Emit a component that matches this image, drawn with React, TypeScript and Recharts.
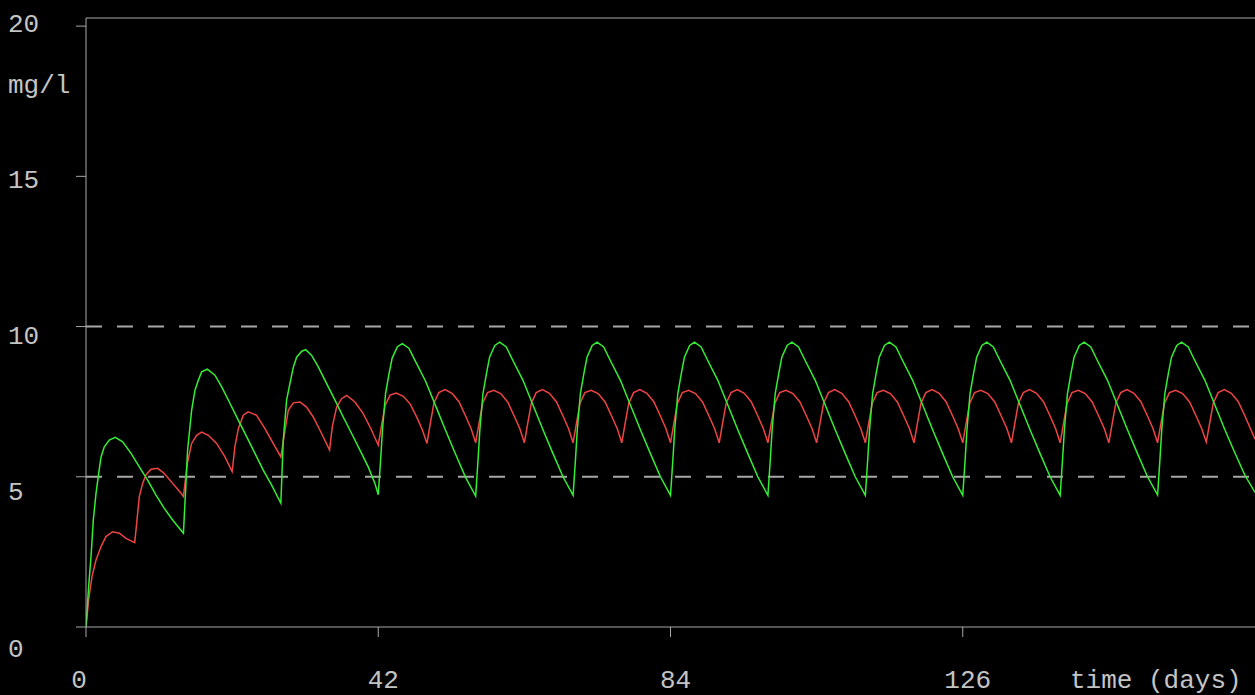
import React from 'react';
import { LineChart, Line, XAxis, YAxis, ReferenceLine } from 'recharts';

const xTicks = [0, 42, 84, 126];
const yTicks = [0, 5, 10, 15, 20];
const limitLevels = [5, 10];
const yMax = 20.27;

// green: dosing every 14 days
const greenDays = [
  0, 0.38, 0.72, 1.05, 1.44, 1.82, 2.16, 2.63, 3.35, 4.21, 5.27, 6.47, 7.66, 8.86, 10.06, 11.25, 12.45, 14.0,
  14.27, 14.6, 15.18, 15.66, 16.14, 16.62, 17.43, 18.53, 19.5, 20.7, 21.9, 23.1, 24.28, 25.47, 26.68, 28.0,
  28.35, 28.83, 29.3, 29.8, 30.27, 31.0, 31.57, 32.43, 33.4, 34.58, 35.78, 36.97, 38.17, 39.37, 40.56, 41.52, 42.0,
  42.35, 42.6, 43.05, 43.55, 44.0, 44.75, 45.45, 46.4, 47.35, 48.8, 50.25, 51.7, 53.1, 54.55, 56.0,
  56.35, 56.6, 57.05, 57.55, 58.0, 58.75, 59.45, 60.4, 61.35, 62.8, 64.25, 65.7, 67.1, 68.55, 70.0,
  70.35, 70.6, 71.05, 71.55, 72.0, 72.75, 73.45, 74.4, 75.35, 76.8, 78.25, 79.7, 81.1, 82.55, 84.0,
  84.35, 84.6, 85.05, 85.55, 86.0, 86.75, 87.45, 88.4, 89.35, 90.8, 92.25, 93.7, 95.1, 96.55, 98.0,
  98.35, 98.6, 99.05, 99.55, 100.0, 100.75, 101.45, 102.4, 103.35, 104.8, 106.25, 107.7, 109.1, 110.55, 112.0,
  112.35, 112.6, 113.05, 113.55, 114.0, 114.75, 115.45, 116.4, 117.35, 118.8, 120.25, 121.7, 123.1, 124.55, 126.0,
  126.35, 126.6, 127.05, 127.55, 128.0, 128.75, 129.45, 130.4, 131.35, 132.8, 134.25, 135.7, 137.1, 138.55, 140.0,
  140.35, 140.6, 141.05, 141.55, 142.0, 142.75, 143.45, 144.4, 145.35, 146.8, 148.25, 149.7, 151.1, 152.55, 154.0,
  154.35, 154.6, 155.05, 155.55, 156.0, 156.75, 157.45, 158.4, 159.35, 160.8, 162.25, 163.7, 165.1, 166.55, 168.0,
];
const greenLevels = [
  0, 1.35, 2.34, 3.56, 4.45, 5.11, 5.66, 6.0, 6.22, 6.31, 6.16, 5.78, 5.33, 4.89, 4.39, 3.95, 3.56, 3.12,
  4.34, 5.89, 7.21, 7.88, 8.21, 8.49, 8.58, 8.38, 7.99, 7.44, 6.88, 6.33, 5.78, 5.22, 4.72, 4.12,
  6.22, 7.55, 8.1, 8.65, 8.98, 9.18, 9.23, 9.04, 8.65, 8.1, 7.55, 6.99, 6.44, 5.89, 5.33, 4.78, 4.4,
  5.6, 6.55, 7.77, 8.43, 8.95, 9.33, 9.43, 9.28, 8.84, 8.18, 7.36, 6.53, 5.76, 4.98, 4.36,
  5.6, 6.55, 7.77, 8.43, 8.98, 9.37, 9.48, 9.32, 8.87, 8.21, 7.38, 6.55, 5.78, 5.0, 4.38,
  5.6, 6.55, 7.77, 8.43, 8.98, 9.37, 9.48, 9.32, 8.87, 8.21, 7.38, 6.55, 5.78, 5.0, 4.38,
  5.6, 6.55, 7.77, 8.43, 8.98, 9.37, 9.48, 9.32, 8.87, 8.21, 7.38, 6.55, 5.78, 5.0, 4.38,
  5.6, 6.55, 7.77, 8.43, 8.98, 9.37, 9.48, 9.32, 8.87, 8.21, 7.38, 6.55, 5.78, 5.0, 4.38,
  5.6, 6.55, 7.77, 8.43, 8.98, 9.37, 9.48, 9.32, 8.87, 8.21, 7.38, 6.55, 5.78, 5.0, 4.38,
  5.6, 6.55, 7.77, 8.43, 8.98, 9.37, 9.48, 9.32, 8.87, 8.21, 7.38, 6.55, 5.78, 5.0, 4.38,
  5.6, 6.55, 7.77, 8.43, 8.98, 9.37, 9.48, 9.32, 8.87, 8.21, 7.38, 6.55, 5.78, 5.0, 4.4,
  5.62, 6.57, 7.78, 8.44, 8.98, 9.37, 9.48, 9.32, 8.87, 8.21, 7.38, 6.55, 5.8, 5.05, 4.48,
];

// red: dosing every 7 days
const redDays = [
  0, 0.38, 0.86, 1.44, 2.16, 2.87, 3.83, 4.79, 5.75, 7.0,
  7.28, 7.66, 8.14, 8.62, 9.34, 10.3, 11.25, 12.45, 13.65, 14.0,
  14.56, 15.18, 15.9, 16.62, 17.58, 18.77, 19.97, 21.0,
  21.4, 21.9, 22.6, 23.3, 24.5, 25.7, 26.9, 28.0,
  28.6, 29.07, 29.8, 30.75, 31.7, 32.66, 33.86, 35.0,
  35.39, 36.02, 36.74, 37.46, 38.65, 39.84, 41.05, 42.0,
  42.5, 43.0, 43.7, 44.6, 45.6, 46.6, 47.6, 48.35, 49.0,
  49.5, 50.0, 50.7, 51.6, 52.6, 53.6, 54.6, 55.35, 56.0,
  56.5, 57.0, 57.7, 58.6, 59.6, 60.6, 61.6, 62.35, 63.0,
  63.5, 64.0, 64.7, 65.6, 66.6, 67.6, 68.6, 69.35, 70.0,
  70.5, 71.0, 71.7, 72.6, 73.6, 74.6, 75.6, 76.35, 77.0,
  77.5, 78.0, 78.7, 79.6, 80.6, 81.6, 82.6, 83.35, 84.0,
  84.5, 85.0, 85.7, 86.6, 87.6, 88.6, 89.6, 90.35, 91.0,
  91.5, 92.0, 92.7, 93.6, 94.6, 95.6, 96.6, 97.35, 98.0,
  98.5, 99.0, 99.7, 100.6, 101.6, 102.6, 103.6, 104.35, 105.0,
  105.5, 106.0, 106.7, 107.6, 108.6, 109.6, 110.6, 111.35, 112.0,
  112.5, 113.0, 113.7, 114.6, 115.6, 116.6, 117.6, 118.35, 119.0,
  119.5, 120.0, 120.7, 121.6, 122.6, 123.6, 124.6, 125.35, 126.0,
  126.5, 127.0, 127.7, 128.6, 129.6, 130.6, 131.6, 132.35, 133.0,
  133.5, 134.0, 134.7, 135.6, 136.6, 137.6, 138.6, 139.35, 140.0,
  140.5, 141.0, 141.7, 142.6, 143.6, 144.6, 145.6, 146.35, 147.0,
  147.5, 148.0, 148.7, 149.6, 150.6, 151.6, 152.6, 153.35, 154.0,
  154.5, 155.0, 155.7, 156.6, 157.6, 158.6, 159.6, 160.35, 161.0,
  161.5, 162.0, 162.7, 163.6, 164.6, 165.6, 166.6, 167.35, 168.0,
];
const redLevels = [
  0, 0.91, 1.68, 2.23, 2.68, 3.01, 3.17, 3.12, 2.95, 2.81,
  3.45, 4.34, 4.78, 5.06, 5.25, 5.28, 5.11, 4.78, 4.45, 4.34,
  5.44, 6.11, 6.38, 6.49, 6.38, 6.11, 5.66, 5.17,
  6.0, 6.61, 7.05, 7.16, 7.05, 6.61, 6.11, 5.66,
  6.55, 7.21, 7.46, 7.49, 7.32, 6.99, 6.44, 5.89,
  6.66, 7.32, 7.6, 7.71, 7.49, 7.1, 6.55, 6.05,
  6.75, 7.38, 7.72, 7.79, 7.68, 7.42, 6.95, 6.56, 6.11,
  6.8, 7.45, 7.8, 7.9, 7.78, 7.5, 7.0, 6.6, 6.13,
  6.8, 7.45, 7.8, 7.88, 7.77, 7.49, 6.99, 6.6, 6.13,
  6.8, 7.45, 7.8, 7.9, 7.78, 7.5, 7.0, 6.6, 6.13,
  6.8, 7.45, 7.8, 7.88, 7.77, 7.49, 6.99, 6.6, 6.13,
  6.8, 7.45, 7.8, 7.9, 7.78, 7.5, 7.0, 6.6, 6.13,
  6.8, 7.45, 7.8, 7.88, 7.77, 7.49, 6.99, 6.6, 6.13,
  6.8, 7.45, 7.8, 7.9, 7.78, 7.5, 7.0, 6.6, 6.13,
  6.8, 7.45, 7.8, 7.88, 7.77, 7.49, 6.99, 6.6, 6.13,
  6.8, 7.45, 7.8, 7.9, 7.78, 7.5, 7.0, 6.6, 6.13,
  6.8, 7.45, 7.8, 7.88, 7.77, 7.49, 6.99, 6.6, 6.13,
  6.8, 7.45, 7.8, 7.9, 7.78, 7.5, 7.0, 6.6, 6.13,
  6.8, 7.45, 7.8, 7.88, 7.77, 7.49, 6.99, 6.6, 6.13,
  6.8, 7.45, 7.8, 7.9, 7.78, 7.5, 7.0, 6.6, 6.13,
  6.8, 7.45, 7.8, 7.88, 7.77, 7.49, 6.99, 6.6, 6.13,
  6.8, 7.45, 7.8, 7.9, 7.78, 7.5, 7.0, 6.6, 6.13,
  6.8, 7.45, 7.8, 7.88, 7.77, 7.49, 6.99, 6.6, 6.16,
  6.8, 7.45, 7.8, 7.9, 7.78, 7.5, 7.0, 6.6, 6.25,
];

const greenData = greenDays.map((d, i) => ({ day: d, level: greenLevels[i] }));
const redData = redDays.map((d, i) => ({ day: d, level: redLevels[i] }));

const AXIS = '#a8a8a8';
const TEXT = '#c4c4c4';
const FONT = '"Liberation Mono", "DejaVu Sans Mono", monospace';

const YTick = (props: any) => {
  const { y, payload } = props;
  const v = Number(payload.value);
  return (
    <text x={8} y={y + 29.5 - 1.18 * v} fill={TEXT} fontFamily={FONT} fontSize={26} textAnchor="start">
      {payload.value}
    </text>
  );
};

const XTick = (props: any) => {
  const { x, payload } = props;
  const v = Number(payload.value);
  return (
    <text x={x + (v === 0 ? -7 : 5)} y={688} fill={TEXT} fontFamily={FONT} fontSize={26} textAnchor="middle">
      {payload.value}
    </text>
  );
};

export default function App() {
  return (
    <div style={{ position: 'absolute', left: 0, top: 0, width: 1255, height: 695, background: '#000' }}>
      <LineChart width={1255} height={695} margin={{ top: 18, right: 0, bottom: 8, left: 10 }}>
        <XAxis
          dataKey="day"
          type="number"
          domain={[0, 168]}
          ticks={xTicks}
          allowDataOverflow
          height={60}
          tickSize={10}
          stroke={AXIS}
          tick={<XTick />}
          label={{
            content: () => (
              <text x={1070} y={688} fill={TEXT} fontFamily={FONT} fontSize={26} textAnchor="start">
                time (days)
              </text>
            ),
          }}
        />
        <YAxis
          type="number"
          domain={[0, yMax]}
          ticks={yTicks}
          allowDataOverflow
          width={76}
          tickSize={10}
          stroke={AXIS}
          tick={<YTick />}
          label={{
            content: () => (
              <text x={8} y={93} fill={TEXT} fontFamily={FONT} fontSize={26} textAnchor="start">
                mg/l
              </text>
            ),
          }}
        />
        <ReferenceLine y={yMax} stroke={AXIS} strokeWidth={1} />
        {limitLevels.map((lv) => (
          <ReferenceLine key={lv} y={lv} stroke={AXIS} strokeWidth={2} strokeDasharray="16 15" />
        ))}
        <Line
          data={redData}
          dataKey="level"
          type="linear"
          stroke="#ee4444"
          strokeWidth={1.5}
          dot={false}
          isAnimationActive={false}
        />
        <Line
          data={greenData}
          dataKey="level"
          type="linear"
          stroke="#33ee33"
          strokeWidth={1.5}
          dot={false}
          isAnimationActive={false}
        />
      </LineChart>
    </div>
  );
}
